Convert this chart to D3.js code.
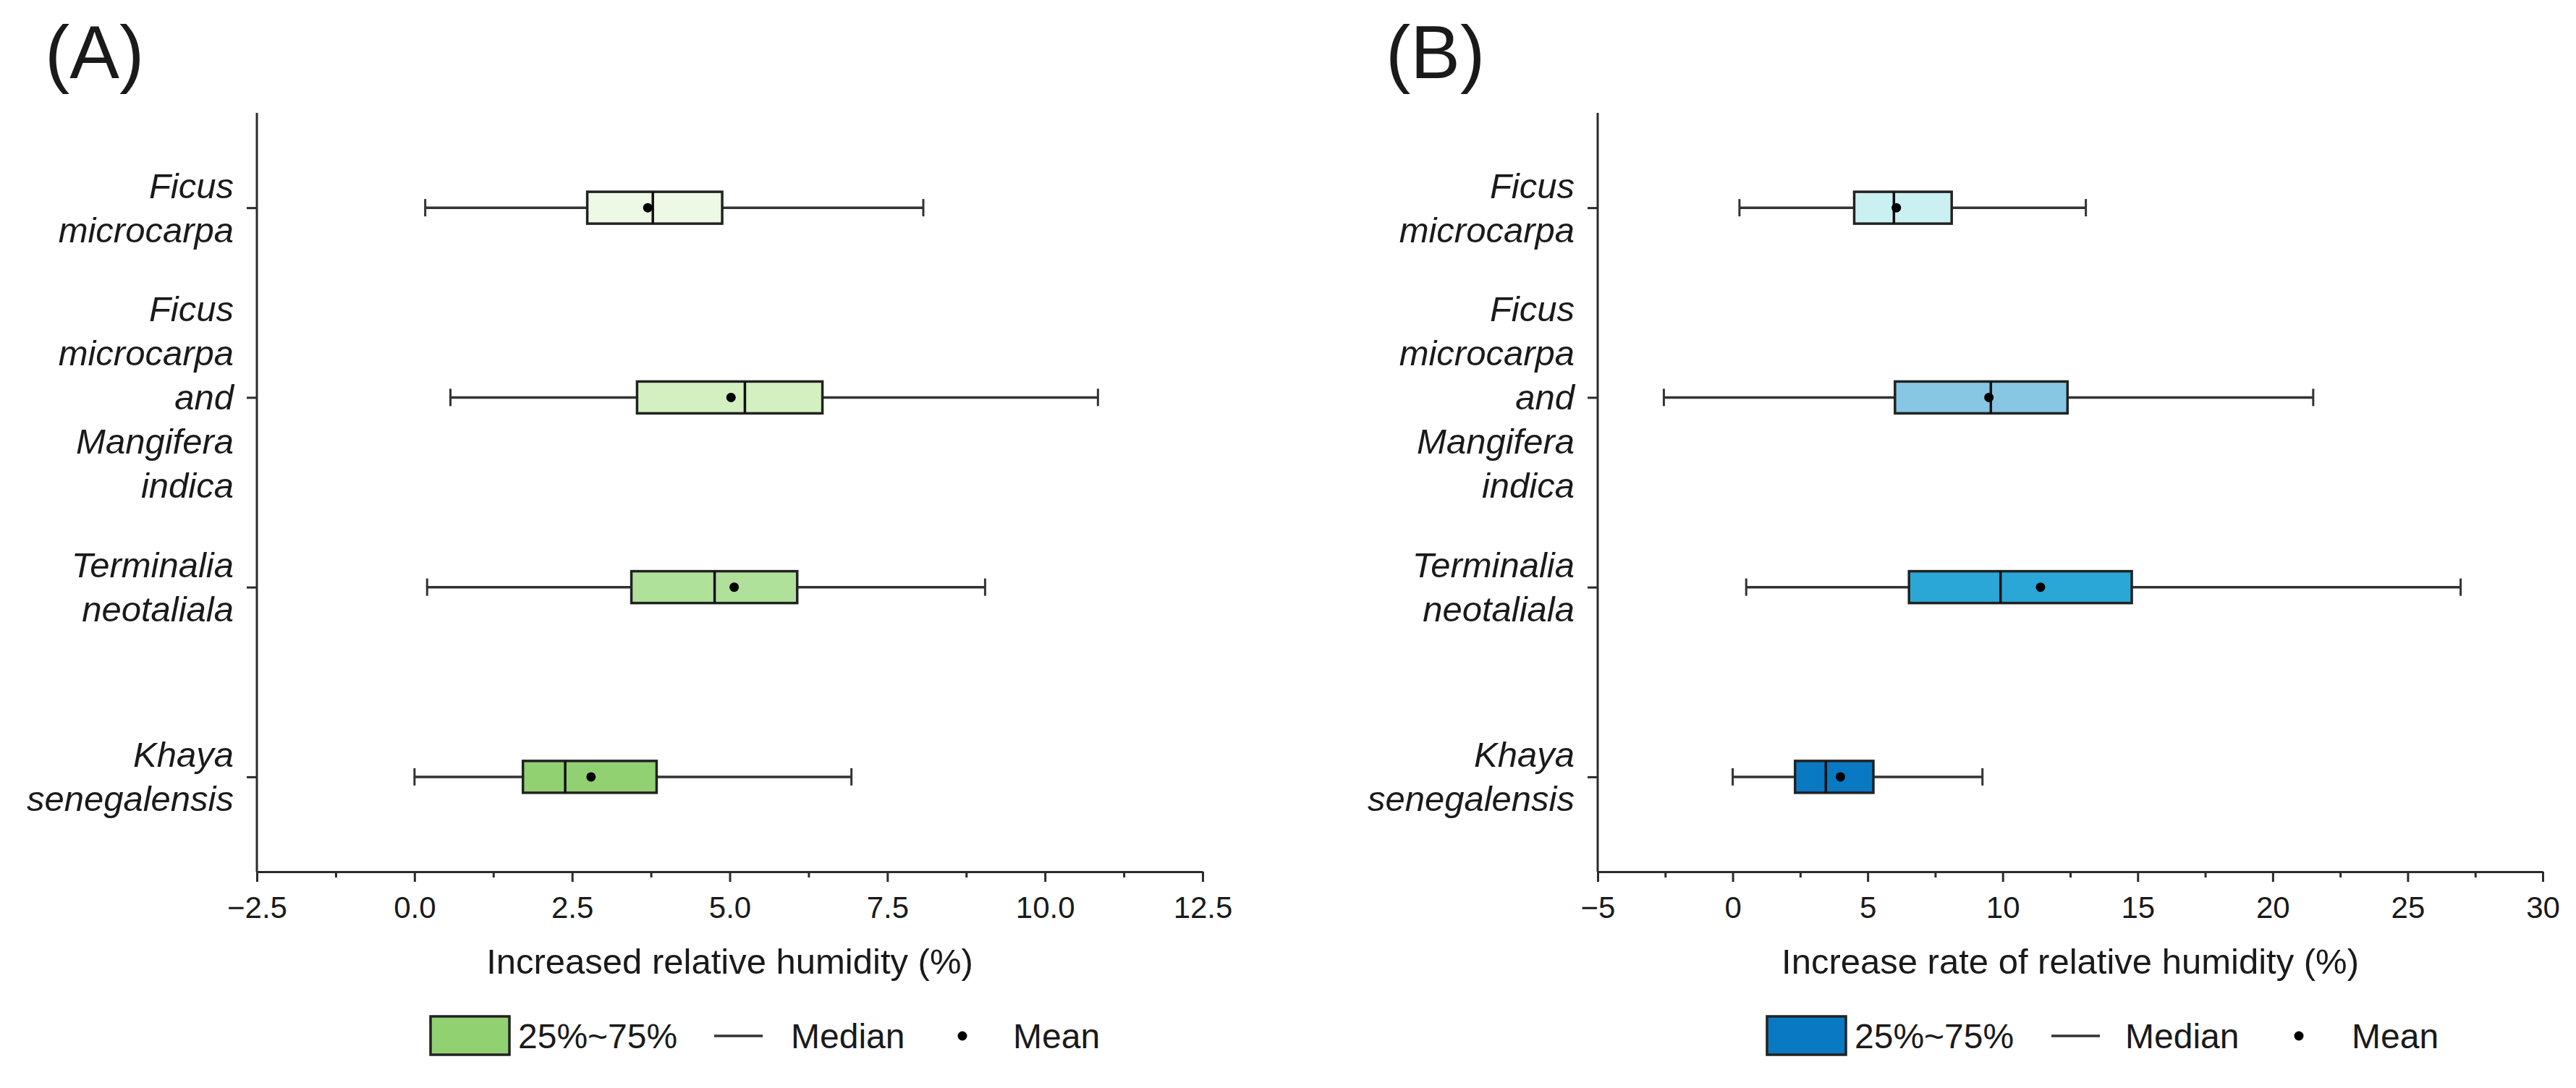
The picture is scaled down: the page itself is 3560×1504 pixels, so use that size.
<!DOCTYPE html>
<html><head><meta charset="utf-8">
<script src="https://cdn.jsdelivr.net/npm/d3@7"></script>
<style>
body{margin:0;background:#fff}
svg{display:block}
text{font-family:"Liberation Sans",Arial,sans-serif;fill:#1a1a1a}
</style>
</head><body><svg id="c" width="3560" height="1504"></svg>
<script>
// ---------- data ----------
const categories = ["Ficus microcarpa","Ficus microcarpa and Mangifera indica","Terminalia neotaliala","Khaya senegalensis"];
const categoryLines = [["Ficus","microcarpa"],["Ficus","microcarpa","and","Mangifera","indica"],["Terminalia","neotaliala"],["Khaya","senegalensis"]];

// Panel A: Increased relative humidity (%)
const aMin  = [0.17, 0.57, 0.20, 0.00];
const aQ1   = [2.74, 3.53, 3.44, 1.72];
const aMed  = [3.78, 5.24, 4.76, 2.39];
const aMean = [3.70, 5.02, 5.07, 2.80];
const aQ3   = [4.88, 6.47, 6.07, 3.84];
const aMax  = [8.07, 10.84, 9.05, 6.93];
const aTicks = [-2.5, 0, 2.5, 5, 7.5, 10, 12.5];
const aTitle = "Increased relative humidity (%)";
const aColors = ["#edf8e5","#d3f0c1","#b0e19b","#92d172"];
const aLegendColor = "#92d172";

// Panel B: Increase rate of relative humidity (%)
const bMin  = [0.25, -2.55, 0.50, 0.00];
const bQ1   = [4.50, 6.01, 6.53, 2.31];
const bMed  = [5.97, 9.56, 9.92, 3.45];
const bMean = [6.06, 9.49, 11.40, 3.99];
const bQ3   = [8.11, 12.40, 14.78, 5.21];
const bMax  = [13.08, 21.50, 26.96, 9.25];
const bTicks = [-5, 0, 5, 10, 15, 20, 25, 30];
const bTitle = "Increase rate of relative humidity (%)";
const bColors = ["#cbf0f1","#87c7e3","#2aa7d6","#0a79c4"];
const bLegendColor = "#0a79c4";

const legendLabels = ["25%~75%","Median","Mean"];
const panelLabels = ["(A)","(B)"];

// ---------- drawing ----------
const svg = d3.select("#c");
const yTop = 156, yBot = 1205;
const AX = "#2b2b2b";

function panel(opt){
  const g = svg.append("g");
  const x = d3.scaleLinear().domain(opt.domain).range(opt.range);
  const y = d3.scalePoint().domain(categories).range([yTop, yBot]).padding(0.5);
  const boxH = 44, capH = 24;

  // x axis minor ticks
  const minor = [];
  for (let i = 0; i < opt.ticks.length - 1; i++) minor.push((opt.ticks[i] + opt.ticks[i+1]) / 2);
  const xa = g.append("g").attr("transform", `translate(0,${yBot})`)
    .call(d3.axisBottom(x).tickValues(minor).tickSize(8).tickFormat("").tickSizeOuter(0));
  xa.select(".domain").remove();
  xa.selectAll("line").attr("stroke", AX).attr("stroke-width", 3);
  // x axis major ticks
  const xb = g.append("g").attr("transform", `translate(0,${yBot})`)
    .call(d3.axisBottom(x).tickValues(opt.ticks).tickSize(14).tickPadding(20).tickSizeOuter(0).tickFormat(opt.fmt));
  xb.select(".domain").attr("stroke", AX).attr("stroke-width", 3);
  xb.selectAll("line").attr("stroke", AX).attr("stroke-width", 3);
  xb.selectAll("text").attr("font-size", 42).attr("fill", "#1a1a1a");

  // y axis
  const ya = g.append("g").attr("transform", `translate(${opt.range[0]},0)`)
    .call(d3.axisLeft(y).tickSize(14).tickSizeOuter(0).tickFormat(""));
  ya.select(".domain").attr("stroke", AX).attr("stroke-width", 3)
    .attr("d", `M0,${yTop}V${yBot}`);
  ya.selectAll("line").attr("stroke", AX).attr("stroke-width", 3);

  // category labels
  categories.forEach((c, i) => {
    const lines = categoryLines[i];
    const n = lines.length;
    const t = g.append("text").attr("text-anchor", "end").attr("font-size", 49).attr("font-style", "italic");
    lines.forEach((ln, k) => {
      t.append("tspan").attr("x", opt.range[0] - 32)
        .attr("y", y(c) + (k - (n - 1) / 2) * 61 + 17).text(ln);
    });
  });

  // boxes
  const data = categories.map((c, i) => ({c, min: opt.min[i], q1: opt.q1[i], med: opt.med[i], mean: opt.mean[i], q3: opt.q3[i], max: opt.max[i], col: opt.colors[i]}));
  const bx = g.selectAll(".bx").data(data).join("g");
  bx.append("line").attr("x1", d => x(d.min)).attr("x2", d => x(d.max))
    .attr("y1", d => y(d.c)).attr("y2", d => y(d.c)).attr("stroke", "#333").attr("stroke-width", 3.5);
  bx.append("line").attr("x1", d => x(d.min)).attr("x2", d => x(d.min))
    .attr("y1", d => y(d.c) - capH/2).attr("y2", d => y(d.c) + capH/2).attr("stroke", "#333").attr("stroke-width", 3);
  bx.append("line").attr("x1", d => x(d.max)).attr("x2", d => x(d.max))
    .attr("y1", d => y(d.c) - capH/2).attr("y2", d => y(d.c) + capH/2).attr("stroke", "#333").attr("stroke-width", 3);
  bx.append("rect").attr("x", d => x(d.q1)).attr("width", d => x(d.q3) - x(d.q1))
    .attr("y", d => y(d.c) - boxH/2).attr("height", boxH)
    .attr("fill", d => d.col).attr("stroke", "#222").attr("stroke-width", 3.5);
  bx.append("line").attr("x1", d => x(d.med)).attr("x2", d => x(d.med))
    .attr("y1", d => y(d.c) - boxH/2).attr("y2", d => y(d.c) + boxH/2).attr("stroke", "#111").attr("stroke-width", 3.5);
  bx.append("circle").attr("cx", d => x(d.mean)).attr("cy", d => y(d.c)).attr("r", 6.5).attr("fill", "#000");

  // axis title
  g.append("text").attr("x", (opt.range[0] + opt.range[1]) / 2).attr("y", 1346)
    .attr("text-anchor", "middle").attr("font-size", 49).text(opt.title);

  // panel label
  g.append("text").attr("x", opt.labelX).attr("y", 108).attr("font-size", 103).text(opt.label);

  // legend
  const L = opt.legend;
  const lg = g.append("g");
  lg.append("rect").attr("x", L.box).attr("y", 1405).attr("width", 109).attr("height", 53)
    .attr("fill", opt.legendColor).attr("stroke", "#222").attr("stroke-width", 3.5);
  lg.append("text").attr("x", L.t1).attr("y", 1449).attr("font-size", 48).text(legendLabels[0]);
  lg.append("line").attr("x1", L.line).attr("x2", L.line + 67).attr("y1", 1432).attr("y2", 1432)
    .attr("stroke", "#333").attr("stroke-width", 3.5);
  lg.append("text").attr("x", L.t2).attr("y", 1449).attr("font-size", 48).text(legendLabels[1]);
  lg.append("circle").attr("cx", L.dot).attr("cy", 1432).attr("r", 6.5).attr("fill", "#000");
  lg.append("text").attr("x", L.t3).attr("y", 1449).attr("font-size", 48).text(legendLabels[2]);
}

panel({domain: [-2.5, 12.5], range: [355, 1662], ticks: aTicks, fmt: d3.format(".1f"),
  min: aMin, q1: aQ1, med: aMed, mean: aMean, q3: aQ3, max: aMax, colors: aColors,
  title: aTitle, label: panelLabels[0], labelX: 62, legendColor: aLegendColor,
  legend: {box: 595, t1: 716, line: 987, t2: 1093, dot: 1330, t3: 1400}});

panel({domain: [-5, 30], range: [2208, 3514], ticks: bTicks, fmt: d3.format("d"),
  min: bMin, q1: bQ1, med: bMed, mean: bMean, q3: bQ3, max: bMax, colors: bColors,
  title: bTitle, label: panelLabels[1], labelX: 1915, legendColor: bLegendColor,
  legend: {box: 2442, t1: 2563, line: 2835, t2: 2937, dot: 3177, t3: 3250}});
</script>
</body></html>
